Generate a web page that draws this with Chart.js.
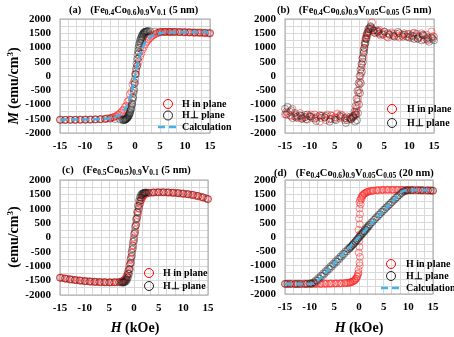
<!DOCTYPE html>
<html>
<head>
<meta charset="utf-8">
<script src="https://cdn.jsdelivr.net/npm/chart.js@4.4.1/dist/chart.umd.min.js"></script>
<style>
body { margin: 0; background: #fff; width: 454px; height: 337px; overflow: hidden; position: relative;
       font-family: "Liberation Serif", serif; font-weight: bold; }
canvas { position: absolute; }
.t { position: absolute; font-size: 10.5px; white-space: nowrap; line-height: 12px; }
.t sub { font-size: 7.5px; vertical-align: -2px; line-height: 0; }
.t .pl { margin-right: 9px; }
.ax { position: absolute; font-size: 14px; white-space: nowrap; line-height: 16px; transform: translate(-50%, -50%); }
.ax.rot { transform: translate(-50%, -50%) rotate(-90deg); }
.ax sup { font-size: 9px; vertical-align: 5px; line-height: 0; }
</style>
</head>
<body>

<div class="t" style="left:69px;top:4px"><span class="pl">(a)</span>(Fe<sub>0.4</sub>Co<sub>0.6</sub>)<sub>0.9</sub>V<sub>0.1</sub> (5 nm)</div>
<div class="t" style="left:277px;top:4px"><span class="pl">(b)</span>(Fe<sub>0.4</sub>Co<sub>0.6</sub>)<sub>0.9</sub>V<sub>0.05</sub>C<sub>0.05</sub> (5 nm)</div>
<div class="t" style="left:62px;top:164px"><span class="pl">(c)</span>(Fe<sub>0.5</sub>Co<sub>0.5</sub>)<sub>0.9</sub>V<sub>0.1</sub> (5 nm)</div>
<div class="t" style="left:274px;top:167px"><span class="pl">(d)</span>(Fe<sub>0.4</sub>Co<sub>0.6</sub>)<sub>0.9</sub>V<sub>0.05</sub>C<sub>0.05</sub> (20 nm)</div>

<div class="ax rot" style="left:14px;top:86px"><i>M</i> (emu/cm<sup>3</sup>)</div>
<div class="ax rot" style="left:14px;top:237px">(emu/cm<sup>3</sup>)</div>
<div class="ax" style="left:135px;top:328px"><i>H</i> (kOe)</div>
<div class="ax" style="left:359px;top:328px"><i>H</i> (kOe)</div>

<script>
// Axis ticks (the -5 label reads "5" in the original figure)
const xMajor = [-15, -10, -5, 0, 5, 10, 15];
const xLabels = ['-15', '-10', '5', '0', '5', '10', '15'];
const yMajor = [-2000, -1500, -1000, -500, 0, 500, 1000, 1500, 2000];
const yLabels = ['-2000', '-1500', '-1000', '-500', '0', '500', '1000', '1500', '2000'];
const seriesNames = ['H in plane', 'H\u22a5 plane', 'Calculation'];

// (a) (Fe0.4Co0.6)0.9V0.1 (5 nm)
const aInDownH = [15,14.5,14,13.5,13,12.5,12,11.5,11,10.5,10,9.5,9,8.5,8,7.5,7,6.5,6,5.5,5,
    4.5,4,3.5,3,2.5,2,1.5,1,0.5,0,-0.5,-1,-1.5,-2,-2.5,-3,-3.5,-4,-4.5,-5,-5.5,-6,
    -7,-8,-9,-10,-11,-12,-13,-14,-15];
const aInDownM = [1490,1510,1500,1520,1510,1530,1520,1530,1525,1535,1530,1540,1535,1545,1540,1545,1550,1545,1550,1545,1530,
    1510,1470,1410,1330,1230,1100,920,680,380,60,-300,-640,-900,-1080,-1210,-1300,-1370,-1420,-1450,-1470,-1490,-1500,
    -1515,-1520,-1530,-1535,-1530,-1540,-1535,-1540,-1530];
const aInUpH = [-14.75,-13.75,-12.75,-11.75,-10.75,-9.75,-8.75,-7.75,-6.75,-5.75,-4.75,
    -4.25,-3.75,-3.25,-2.75,-2.25,-1.75,-1.25,-0.75,-0.25,0.25,0.75,1.25,1.75,2.25,2.75,3.25,3.75,4.25,4.75,5.25,5.75,6.25,6.75,7.25,7.75,
    8.75,9.75,10.75,11.75,12.75,13.75,14.75];
const aInUpM = [-1545,-1535,-1540,-1530,-1535,-1530,-1525,-1520,-1510,-1495,-1470,
    -1450,-1410,-1360,-1280,-1180,-1040,-850,-560,-200,180,500,790,1010,1170,1290,1380,1440,1490,1520,1540,1550,1545,1550,1545,1550,
    1540,1535,1530,1520,1510,1505,1495];
const aPerpDownH = [15,14,13,12,11,10,9,8,7,6,5,4,3,2.6,2.4,2.2,
    2,1.9,1.8,1.7,1.6,1.5,1.4,1.3,1.2,1.1,1,0.9,0.8,0.7,0.6,0.5,0.4,0.3,0.2,0.1,0,
    -0.1,-0.2,-0.3,-0.4,-0.5,-0.6,-0.7,-0.8,-0.9,-1,-1.1,-1.2,-1.3,-1.4,-1.5,-1.6,-1.7,-1.8,-1.9,-2,
    -2.2,-2.4,-3,-4,-5,-6,-7,-8,-9,-10,-11,-12,-13,-14,-15];
const aPerpDownM = [1510,1520,1530,1525,1535,1540,1545,1550,1545,1550,1555,1560,1570,1580,1570,1560,
    1550,1540,1525,1505,1480,1450,1415,1375,1330,1280,1230,1160,1080,990,880,750,600,430,250,70,-110,
    -280,-450,-600,-740,-860,-960,-1050,-1130,-1200,-1260,-1310,-1350,-1390,-1420,-1445,-1465,-1485,-1500,-1515,-1525,
    -1530,-1530,-1520,-1510,-1500,-1510,-1520,-1525,-1530,-1530,-1535,-1540,-1535,-1540,-1535];
const aPerpUpH = [-2.4,-2.2,-2,-1.8,-1.6,-1.4,-1.2,-1,-0.8,-0.6,-0.4,-0.2,0,0.2,0.4,0.6,0.8,1,1.2,1.4,1.6,1.8,2,2.2,2.4];
const aPerpUpM = [-1560,-1550,-1540,-1520,-1490,-1450,-1390,-1300,-1170,-1000,-780,-520,-230,60,340,600,820,1000,1150,1270,1370,1450,1510,1550,1570];
const aCalcH = [-15,-10,-7,-5,-4,-3,-2.5,-2,-1.5,-1,-0.5,0,0.5,1,1.5,2,2.5,3,4,5,7,10,15];
const aCalcM = [-1530,-1525,-1510,-1480,-1440,-1360,-1280,-1160,-990,-760,-420,0,420,760,990,1160,1280,1360,1450,1500,1530,1540,1540];

// (b) (Fe0.4Co0.6)0.9V0.05C0.05 (5 nm)
const bInDownH = [15,14.5,14,13.5,13,12.5,12,11.5,11,10.5,10,9.5,9,8.5,8,7.5,7,6.5,6,5.5,5,4.5,4,3.5,3,2.5,2,
    1.8,1.6,1.4,1.2,1,0.8,0.6,0.4,0.2,0,-0.2,-0.4,-0.6,-0.8,-1,
    -1.5,-2,-2.5,-3,-3.5,-4,-4.5,-5,-5.5,-6,-6.5,-7,-7.5,-8,-8.5,-9,-9.5,-10,-10.5,-11,-11.5,-12,-12.5,-13,-13.5,-14,-14.5,-15];
const bInDownM = [1380,1560,1300,1450,1280,1500,1350,1420,1520,1330,1460,1380,1500,1420,1350,1480,1400,1530,1440,1380,1560,1470,1620,1540,1600,1880,1680,
    1580,1500,1420,1320,1150,900,600,300,0,-300,-600,-900,-1150,-1300,-1400,
    -1450,-1500,-1420,-1550,-1380,-1480,-1320,-1450,-1400,-1520,-1350,-1460,-1390,-1600,-1420,-1350,-1480,-1400,-1530,-1370,-1450,-1300,-1480,-1420,-1150,-1380,-1300,-1350];
const bInUpH = [-14.75,-13.75,-12.75,-11.75,-10.75,-9.75,-8.75,-7.75,-6.75,-5.75,-4.75,-3.75,-2.75,-1.75,-1.25,
    -0.9,-0.7,-0.5,-0.3,-0.1,0.1,0.3,0.5,0.7,0.9,1.1,1.3,1.5,
    1.75,2.25,2.75,3.25,3.75,4.25,4.75,5.75,6.75,7.75,8.75,9.75,10.75,11.75,12.75,13.75,14.75];
const bInUpM = [-1250,-1420,-1380,-1500,-1430,-1350,-1470,-1400,-1550,-1380,-1460,-1350,-1480,-1530,-1420,
    -1350,-1250,-1050,-800,-500,-200,100,400,700,980,1200,1350,1450,
    1550,1650,1600,1500,1580,1420,1500,1350,1480,1400,1450,1380,1500,1320,1430,1250,1400];
const bPerpDownH = [15,14.5,14,13.5,13,12.5,12,11.5,11,10.5,10,9,8,7,6,5,4,3.5,3,2.5,2.2,
    2,1.8,1.6,1.4,1.2,1,0.8,0.6,0.4,0.2,0,-0.2,-0.4,-0.6,-0.8,-1,
    -1.3,-1.6,-2,-2.5,-3,-4,-5,-6,-7,-8,-9,-10,-10.5,-11,-11.5,-12,-12.5,-13,-13.5,-14,-14.5,-15];
const bPerpDownM = [1250,1350,1200,1300,1420,1250,1380,1480,1300,1420,1350,1450,1500,1380,1460,1550,1480,1600,1520,1680,1750,
    1650,1550,1420,1300,1150,980,800,620,430,220,0,-250,-520,-800,-1050,-1250,
    -1400,-1500,-1450,-1550,-1480,-1400,-1520,-1600,-1450,-1380,-1500,-1420,-1350,-1450,-1500,-1380,-1420,-1300,-1480,-1250,-1080,-1150];
const bPerpUpH = [-14.75,-13.75,-12.75,-11.75,-10.75,-9.75,-8.75,-7.75,-6.75,-5.75,-4.75,-3.75,-2.75,-1.75,-1.25,
    -0.9,-0.7,-0.5,-0.3,-0.1,0.1,0.3,0.5,0.7,0.9,1.1,1.3,1.5,
    1.75,2.25,2.75,3.75,4.75,5.75,6.75,7.75,8.75,9.75,10.75,11.75,12.75,13.75,14.75];
const bPerpUpM = [-1350,-1200,-1450,-1400,-1520,-1430,-1580,-1470,-1400,-1500,-1550,-1430,-1650,-1500,-1450,
    -1600,-1350,-1550,-1300,-1000,-600,-250,150,500,850,1100,1300,1500,
    1650,1720,1600,1550,1450,1500,1420,1550,1380,1480,1400,1300,1450,1350,1300];

// (c) (Fe0.5Co0.5)0.9V0.1 (5 nm)
const cInDownH = [15,14.5,14,13.5,13,12.5,12,11.5,11,10.5,10,9.5,9,8.5,8,7.5,7,6.5,6,5.5,5,4.5,4,3.5,3,2.5,
    2,1.75,1.5,1.25,1,0.75,0.5,0.25,0,-0.25,-0.5,-0.75,-1,-1.25,-1.5,-1.75,-2,
    -2.5,-3,-3.5,-4,-4.5,-5,-5.5,-6,-6.5,-7,-7.5,-8,-8.5,-9,-9.5,-10,-10.5,-11,-11.5,-12,-12.5,-13,-13.5,-14,-14.5,-15];
const cInDownM = [1330,1360,1390,1410,1430,1450,1470,1485,1500,1510,1520,1530,1540,1545,1550,1555,1560,1565,1570,1570,1570,1570,1565,1555,1545,1520,
    1460,1400,1310,1180,1000,780,530,270,0,-270,-530,-780,-1000,-1180,-1320,-1420,-1480,
    -1520,-1540,-1550,-1555,-1560,-1560,-1560,-1555,-1555,-1550,-1545,-1540,-1535,-1530,-1520,-1515,-1505,-1495,-1485,-1475,-1465,-1450,-1440,-1425,-1410,-1395];
const cInUpH = [-14.75,-13.75,-12.75,-11.75,-10.75,-9.75,-8.75,-7.75,-6.75,-5.75,-4.75,-3.75,-2.75,
    -2.4,-2.2,-2,-1.8,-1.6,-1.4,-1.2,-1,-0.8,-0.6,-0.4,-0.2,0,0.2,0.4,0.6,0.8,1,1.2,1.4,1.6,1.8,2,2.2,2.4,
    2.75,3.75,4.75,5.75,6.75,7.75,8.75,9.75,10.75,11.75,12.75,13.75,14.75];
const cInUpM = [-1400,-1430,-1460,-1480,-1500,-1520,-1535,-1545,-1555,-1560,-1560,-1555,-1545,
    -1530,-1515,-1495,-1465,-1420,-1350,-1250,-1110,-940,-740,-520,-290,-50,190,430,650,850,1020,1170,1290,1380,1440,1490,1520,1540,
    1555,1570,1575,1575,1570,1560,1545,1530,1510,1485,1450,1410,1350];
const cPerpDownH = [15,14,13,12,11,10,9,8,7,6,5,4,3,2.5,2.2,
    2,1.8,1.6,1.4,1.2,1,0.8,0.6,0.4,0.2,0,-0.2,-0.4,-0.6,-0.8,-1,-1.2,-1.4,-1.6,-1.8,-2,
    -2.2,-2.5,-3,-4,-5,-6,-7,-8,-9,-10,-11,-12,-13,-14,-15];
const cPerpDownM = [1340,1400,1450,1490,1510,1530,1550,1560,1570,1575,1570,1565,1560,1560,1555,
    1550,1540,1520,1480,1400,1280,1100,880,640,380,120,-150,-420,-680,-900,-1100,-1260,-1380,-1460,-1510,-1540,
    -1555,-1560,-1560,-1560,-1560,-1555,-1550,-1545,-1530,-1520,-1500,-1480,-1460,-1430,-1400];
const cPerpUpH = [-2.4,-2.2,-2,-1.8,-1.6,-1.4,-1.2,-1,-0.8,-0.6,-0.4,-0.2,0,0.2,0.4,0.6,0.8,1,1.2,1.4,1.6,1.8,2,2.2,2.4];
const cPerpUpM = [-1570,-1565,-1560,-1545,-1520,-1470,-1390,-1270,-1100,-880,-640,-380,-120,150,420,680,900,1100,1260,1380,1460,1510,1540,1555,1565];

// (d) (Fe0.4Co0.6)0.9V0.05C0.05 (20 nm)
const dInDownH = [15,14.5,14,13.5,13,12.5,12,11.5,11,10.5,10,9.5,9,8.5,8,7.5,7,6.5,6,5.5,5,4.5,4,3.5,3,2.5,
    2,1.75,1.5,1.25,1,0.8,0.6,0.4,0.2,0.1,
    0.1,0,-0.1,0.05,-0.05,0.1,-0.1,
    -0.2,-0.4,-0.6,-0.8,-1,-1.25,-1.5,-1.75,-2,
    -2.5,-3,-3.5,-4,-4.5,-5,-5.5,-6,-6.5,-7,-7.5,-8,-8.5,-9,-9.5,-10,-10.5,-11,-11.5,-12,-12.5,-13,-13.5,-14,-14.5,-15];
const dInDownM = [1620,1625,1630,1630,1635,1635,1640,1640,1645,1645,1650,1650,1650,1655,1655,1655,1655,1655,1655,1655,1650,1650,1645,1640,1630,1620,
    1600,1585,1565,1540,1510,1475,1430,1370,1290,1200,
    1000,650,250,-150,-550,-900,-1150,
    -1300,-1400,-1460,-1500,-1530,-1560,-1580,-1595,-1605,
    -1615,-1620,-1625,-1630,-1630,-1635,-1635,-1640,-1640,-1640,-1645,-1645,-1645,-1645,-1650,-1650,-1650,-1650,-1650,-1650,-1650,-1650,-1650,-1650,-1650,-1645];
const dInUpH = [-14.75,-13.75,-12.75,-11.75,-10.75,-9.75,-8.75,-7.75,-6.75,-5.75,-4.75,-3.75,-2.75,
    -2.25,-1.75,-1.25,-0.9,-0.6,-0.3,-0.1,
    0.15,0.2,0.1,0.25,0.15,0.2,
    0.35,0.5,0.75,1.1,1.6,2.25,2.75,
    3.75,4.75,5.75,6.75,7.75,8.75,9.75,10.75,11.75,12.75,13.75,14.75];
const dInUpM = [-1650,-1650,-1650,-1650,-1650,-1650,-1645,-1645,-1640,-1635,-1630,-1625,-1615,
    -1610,-1595,-1565,-1520,-1460,-1370,-1260,
    -1000,-700,-350,100,450,800,
    1150,1330,1450,1520,1570,1610,1625,
    1640,1650,1655,1655,1655,1655,1650,1650,1645,1640,1635,1625];
const dPerpDownH = [15,14,13,12,11,10,
    9.5,9,8.5,8,7.5,7,6.5,6,5.5,5,4.5,4,3.5,3,2.5,2,
    1.75,1.5,1.25,1,0.75,0.5,0.25,0,-0.25,-0.5,-0.75,-1,-1.25,-1.5,-1.75,-2,
    -2.5,-3,-3.5,-4,-4.5,-5,-5.5,-6,-6.5,-7,-7.5,-8,-8.5,-9,-9.5,
    -10,-11,-12,-13,-14,-15];
const dPerpDownM = [1630,1640,1640,1645,1645,1640,
    1630,1600,1540,1460,1380,1295,1210,1125,1040,955,870,780,690,600,510,420,
    370,320,265,210,160,105,50,0,-50,-105,-160,-210,-265,-320,-370,-420,
    -510,-600,-690,-780,-870,-955,-1040,-1125,-1210,-1295,-1380,-1460,-1540,-1600,-1630,
    -1630,-1640,-1645,-1645,-1640,-1640];
const dPerpUpH = [-14.5,-12.5,-10.5,
    -9.75,-9.25,-8.75,-8.25,-7.75,-7.25,-6.75,-6.25,-5.75,-5.25,-4.75,-4.25,-3.75,-3.25,-2.75,-2.25,
    -1.9,-1.6,-1.3,-1,-0.7,-0.4,-0.1,0.2,0.5,0.8,1.1,1.4,1.7,2,
    2.25,2.75,3.25,3.75,4.25,4.75,5.25,5.75,6.25,6.75,7.25,7.75,8.25,8.75,9.25,9.75,
    10.5,12.5,14.5];
const dPerpUpM = [-1645,-1645,-1640,
    -1625,-1590,-1520,-1440,-1360,-1275,-1190,-1105,-1020,-935,-850,-765,-680,-590,-500,-420,
    -380,-330,-280,-230,-170,-110,-50,10,70,130,190,250,310,370,
    440,530,620,710,800,890,975,1060,1145,1230,1315,1400,1480,1555,1605,1630,
    1640,1645,1640];
const dCalcH = [-15,-10,-9,-8.5,-8,8,8.5,9,10,15];
const dCalcM = [-1650,-1645,-1620,-1560,-1470,1470,1560,1620,1645,1650];

// Styles
const RED = 'rgba(255, 30, 30, 0.65)';
const BLACK = 'rgba(30, 30, 30, 0.55)';
const BLUE = '#47b2e8';
const FONT = { family: '"Liberation Serif", serif', weight: 'bold', size: 11 };

Chart.defaults.font.family = FONT.family;
Chart.defaults.font.weight = 'bold';
Chart.defaults.font.size = 11;
Chart.defaults.color = '#000';

function pts(h, m) {
    return h.map((x, i) => ({ x: x, y: m[i] }));
}

function minorGrid(major, parts) {
    const out = [];
    for (let i = 0; i < major.length - 1; i++) {
        for (let k = 0; k < parts; k++) {
            out.push(major[i] + (major[i + 1] - major[i]) * k / parts);
        }
    }
    out.push(major[major.length - 1]);
    return out;
}

function labelFor(v, major, labels) {
    for (let j = 0; j < major.length; j++) {
        if (Math.abs(v - major[j]) < 1e-6) return labels[j];
    }
    return '';
}

const xGrid = minorGrid(xMajor, 3);
const yGrid = minorGrid(yMajor, 2);

function markers(label, color, legendColor, data, order) {
    return {
        label: label,
        data: data,
        showLine: false,
        pointStyle: 'circle',
        pointRadius: 3.5,
        pointBorderWidth: 0.8,
        pointBorderColor: color,
        pointBackgroundColor: 'rgba(0,0,0,0)',
        legendColor: legendColor,
        order: order,
        clip: false
    };
}

function calcLine(data) {
    return {
        label: seriesNames[2],
        data: data,
        showLine: true,
        pointRadius: 0,
        borderColor: BLUE,
        borderWidth: 2.5,
        borderDash: [7, 4],
        cubicInterpolationMode: 'monotone',
        fill: false,
        legendColor: BLUE,
        order: 0,
        clip: false
    };
}

// Frame round the plot area
const frame = {
    id: 'frame',
    beforeDatasetsDraw(chart) {
        const ctx = chart.ctx, a = chart.chartArea;
        ctx.save();
        ctx.strokeStyle = '#a6a6a6';
        ctx.lineWidth = 1;
        ctx.strokeRect(a.left, a.top, a.right - a.left, a.bottom - a.top);
        ctx.restore();
    }
};

// Legend drawn inside the plot, bottom right
const innerLegend = {
    id: 'innerLegend',
    afterDraw(chart, args, opts) {
        const ctx = chart.ctx, a = chart.chartArea;
        ctx.save();
        ctx.font = 'bold 10px "Liberation Serif", serif';
        ctx.textBaseline = 'middle';
        ctx.textAlign = 'left';
        chart.data.datasets.forEach((ds, i) => {
            const y = a.bottom + opts.dy[i];
            const mx = a.right + opts.mx;
            ctx.beginPath();
            if (ds.showLine) {
                ctx.setLineDash([7, 4]);
                ctx.moveTo(mx - 10, y);
                ctx.lineTo(mx + 10, y);
                ctx.lineWidth = 2.5;
            } else {
                ctx.setLineDash([]);
                ctx.arc(mx, y, 4.5, 0, Math.PI * 2);
                ctx.lineWidth = 1;
            }
            ctx.strokeStyle = ds.legendColor;
            ctx.stroke();
            ctx.setLineDash([]);
            ctx.fillStyle = '#000';
            ctx.fillText(ds.label, a.right + opts.tx, y);
        });
        ctx.restore();
    }
};

function makePanel(box, datasets, legend) {
    const canvas = document.createElement('canvas');
    canvas.width = box.w;
    canvas.height = box.h;
    canvas.style.left = box.left + 'px';
    canvas.style.top = box.top + 'px';
    document.body.insertBefore(canvas, document.body.firstChild);

    new Chart(canvas.getContext('2d'), {
        type: 'scatter',
        data: { datasets: datasets },
        options: {
            responsive: false,
            animation: false,
            devicePixelRatio: 1,
            layout: { padding: box.pad },
            scales: {
                x: {
                    type: 'linear', min: -15, max: 15,
                    afterBuildTicks: s => { s.ticks = xGrid.map(v => ({ value: v })); },
                    afterFit: s => { s.height = 20; },
                    ticks: {
                        autoSkip: false, maxRotation: 0, padding: 7, color: '#000', font: FONT,
                        callback: v => labelFor(v, xMajor, xLabels)
                    },
                    grid: { color: '#d9d9d9', drawTicks: false },
                    border: { display: false }
                },
                y: {
                    type: 'linear', min: -2000, max: 2000,
                    afterBuildTicks: s => { s.ticks = yGrid.map(v => ({ value: v })); },
                    afterFit: s => { s.width = box.yw; },
                    ticks: {
                        autoSkip: false, padding: 9, color: '#000', font: FONT,
                        callback: v => labelFor(v, yMajor, yLabels)
                    },
                    grid: { color: '#d9d9d9', drawTicks: false },
                    border: { display: false }
                }
            },
            plugins: {
                legend: { display: false },
                tooltip: { enabled: false },
                innerLegend: legend
            }
        },
        plugins: [frame, innerLegend]
    });
}

// Panel (a)
makePanel(
    { left: 0, top: 0, w: 240, h: 160, yw: 60, pad: { left: 0, right: 30, top: 19, bottom: 7 } },
    [
        markers(seriesNames[0], RED, '#ff0000', pts(aInDownH, aInDownM).concat(pts(aInUpH, aInUpM)), 2),
        markers(seriesNames[1], BLACK, '#222', pts(aPerpDownH, aPerpDownM).concat(pts(aPerpUpH, aPerpUpM)), 1),
        calcLine(pts(aCalcH, aCalcM))
    ],
    { mx: -42, tx: -28, dy: [-29, -17.5, -6] }
);

// Panel (b)
makePanel(
    { left: 228, top: 0, w: 226, h: 160, yw: 57, pad: { left: 0, right: 20, top: 19, bottom: 7 } },
    [
        markers(seriesNames[0], RED, '#ff0000', pts(bInDownH, bInDownM).concat(pts(bInUpH, bInUpM)), 2),
        markers(seriesNames[1], BLACK, '#222', pts(bPerpDownH, bPerpDownM).concat(pts(bPerpUpH, bPerpUpM)), 1)
    ],
    { mx: -42, tx: -27, dy: [-24, -10] }
);

// Panel (c)
makePanel(
    { left: 0, top: 163, w: 228, h: 160, yw: 60, pad: { left: 0, right: 20, top: 17, bottom: 8 } },
    [
        markers(seriesNames[0], RED, '#ff0000', pts(cInDownH, cInDownM).concat(pts(cInUpH, cInUpM)), 2),
        markers(seriesNames[1], BLACK, '#222', pts(cPerpDownH, cPerpDownM).concat(pts(cPerpUpH, cPerpUpM)), 1)
    ],
    { mx: -59, tx: -45, dy: [-22, -9] }
);

// Panel (d)
makePanel(
    { left: 228, top: 163, w: 226, h: 160, yw: 57, pad: { left: 0, right: 21, top: 17, bottom: 9 } },
    [
        markers(seriesNames[0], RED, '#ff0000', pts(dInDownH, dInDownM).concat(pts(dInUpH, dInUpM)), 2),
        markers(seriesNames[1], BLACK, '#222', pts(dPerpDownH, dPerpDownM).concat(pts(dPerpUpH, dPerpUpM)), 1),
        calcLine(pts(dCalcH, dCalcM))
    ],
    { mx: -42, tx: -27, dy: [-30, -18, -6] }
);
</script>
</body>
</html>
